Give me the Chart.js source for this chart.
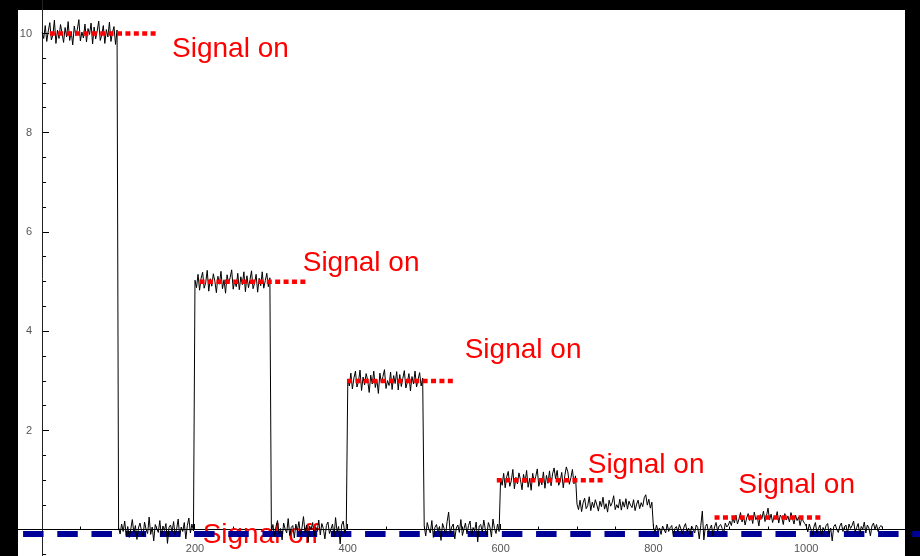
<!DOCTYPE html>
<html>
<head>
<meta charset="utf-8">
<script src="https://cdn.jsdelivr.net/npm/chart.js@4.4.0/dist/chart.umd.min.js"></script>
<style>
  html, body { margin: 0; padding: 0; background: #000; }
  #frame { position: absolute; left: 18px; top: 10px; width: 887px; height: 546px; background: #fff; }
  #chart { position: absolute; left: 0; top: 0; }
</style>
</head>
<body>
<div id="frame"></div>
<canvas id="chart" width="920" height="556"></canvas>
<script>
// noisy signal, one sample every 2 units, one array per 100-unit block
const sampleStep = 2;
const blockStart = [0, 100, 200, 300, 400, 500, 600, 700, 800, 900, 1000];
const on10 = [10.02, 9.9, 10.16, 9.84, 10.05, 10.22, 9.87, 9.97, 10.27, 9.8, 10.07, 9.9, 10.18, 10.01, 9.82, 10.12, 9.93, 10.24, 9.86, 10.04, 9.77, 10.15, 9.96, 10.08, 10.28, 9.85, 10.03, 9.91, 10.19, 9.83, 10.1, 9.98, 10.21, 9.79, 10.13, 9.89, 10.05, 10.25, 9.86, 9.97, 10.16, 9.8, 10.08, 9.93, 10.23, 9.84, 10.02, 10.14, 9.78, 10.07];
const off1 = [0.05, -0.08, 0.12, -0.03, 0.18, -0.11, 0.07, -0.15, 0.02, 0.21, -0.06, 0.09, -0.19, 0.04, 0.14, -0.02, -0.12, 0.16, 0.01, -0.07, 0.26, -0.09, 0.06, -0.22, 0.11, 0.03, -0.05, 0.19, -0.14, 0.08, -0.01, 0.13, -0.27, 0.05, 0.1, -0.04, 0.17, -0.1, 0.02, 0.22, -0.13, 0.06, -0.03, 0.15, -0.18, 0.09, 0.24, -0.06, 0.12, -0.02];
const on5 = [5.03, 4.88, 5.15, 4.83, 5.07, 5.19, 4.87, 4.98, 5.23, 4.81, 5.06, 4.91, 5.16, 5.01, 4.78, 5.11, 4.95, 5.21, 4.86, 5.04, 4.77, 5.14, 4.97, 5.08, 5.24, 4.85, 5.02, 4.9, 5.17, 4.84, 5.1, 4.94, 5.2, 4.8, 5.12, 4.88, 5.04, 5.22, 4.86, 4.97, 5.15, 4.79, 5.07, 4.92, 5.2, 4.87, 5.02, 5.17, 4.9, 5.08];
const off2 = [-0.04, 0.11, -0.13, 0.07, 0.19, -0.08, 0.03, -0.2, 0.14, 0.02, -0.06, 0.23, -0.11, 0.05, 0.09, -0.16, 0.12, -0.02, 0.17, -0.09, 0.04, 0.27, -0.05, 0.1, -0.24, 0.08, 0.01, 0.15, -0.12, 0.06, -0.03, 0.2, -0.1, 0.13, 0.03, -0.18, 0.09, 0.16, -0.07, 0.02, 0.12, -0.14, 0.25, -0.04, 0.07, -0.28, 0.1, 0.18, -0.06, 0.04];
const on3 = [3.04, 2.9, 3.16, 2.84, 3.06, 3.2, 2.88, 2.99, 3.22, 2.81, 3.08, 2.92, 3.15, 3.02, 2.77, 3.12, 2.94, 3.2, 2.87, 3.03, 2.75, 3.16, 2.96, 3.09, 3.23, 2.85, 3.01, 2.91, 3.18, 2.83, 3.11, 2.95, 3.19, 2.82, 3.13, 2.89, 3.05, 3.21, 2.86, 2.98, 3.15, 2.8, 3.09, 2.94, 3.2, 2.88, 3.03, 3.17, 2.9, 3.06];
const off3 = [0.08, -0.12, 0.15, 0.02, -0.06, 0.19, -0.15, 0.05, 0.11, -0.03, 0.07, -0.21, 0.13, 0.03, -0.09, 0.17, 0.36, -0.07, 0.06, 0.12, -0.18, 0.04, 0.1, -0.05, 0.21, -0.11, 0.02, 0.14, -0.08, 0.09, 0.18, -0.13, 0.05, -0.02, 0.16, -0.24, 0.08, 0.11, -0.04, 0.2, 0.01, -0.1, 0.15, 0.06, -0.14, 0.22, 0.03, -0.07, 0.12, -0.03];
const on1 = [1.04, 0.9, 1.14, 0.85, 1.07, 1.18, 0.88, 0.99, 1.22, 0.83, 1.06, 0.93, 1.15, 1.01, 0.81, 1.12, 0.95, 1.2, 0.86, 1.04, 0.8, 1.14, 0.97, 1.08, 1.23, 0.88, 1.02, 0.91, 1.17, 0.84, 1.1, 0.94, 1.19, 0.89, 1.13, 1.25, 1.03, 1.2, 0.9, 0.98, 1.16, 0.85, 1.09, 1.27, 1.17, 0.92, 1.05, 1.22, 0.93, 1.09];
const half = [0.52, 0.41, 0.6, 0.37, 0.55, 0.64, 0.43, 0.49, 0.67, 0.39, 0.56, 0.45, 0.61, 0.5, 0.38, 0.58, 0.47, 0.66, 0.42, 0.53, 0.36, 0.6, 0.48, 0.55, 0.69, 0.41, 0.51, 0.44, 0.62, 0.4, 0.57, 0.46, 0.63, 0.42, 0.58, 0.5, 0.45, 0.61, 0.39, 0.52, 0.6, 0.43, 0.55, 0.47, 0.65, 0.71, 0.5, 0.62, 0.44, 0.56];
const off4 = [0.06, -0.05, 0.1, -0.02, 0.04, -0.09, 0.08, 0.01, -0.06, 0.12, -0.03, 0.05, 0.09, -0.11, 0.03, 0.07, -0.04, 0.11, 0.02, -0.08, 0.06, 0.13, -0.03, 0.04, -0.1, 0.08, 0.02, -0.06, 0.1, 0.05, -0.18, 0.09, 0.38, -0.2, 0.07, 0.12, -0.04, 0.03, 0.1, -0.12, 0.06, 0.15, -0.02, 0.08, 0.11, 0.03, -0.07, 0.14, 0.06, 0.1];
const weak = [0.18, 0.09, 0.25, 0.14, 0.3, 0.12, 0.22, 0.35, 0.16, 0.27, 0.1, 0.24, 0.33, 0.19, 0.28, 0.13, 0.36, 0.21, 0.26, 0.08, 0.31, 0.23, 0.38, 0.17, 0.29, 0.44, 0.2, 0.32, 0.15, 0.27, 0.22, 0.37, 0.14, 0.3, 0.25, 0.11, 0.33, 0.2, 0.28, 0.16, 0.35, 0.23, 0.12, 0.3, 0.19, 0.26, 0.09, 0.24, 0.18, 0.13];
const tail = [0.08, -0.04, 0.12, 0.02, -0.1, 0.06, 0.15, -0.06, 0.03, 0.1, -0.14, 0.05, -0.02, 0.09, 0.13, -0.08, 0.04, -0.22, 0.07, 0.11, 0.01, -0.05, 0.08, 0.14, -0.03, 0.06, 0.1, -0.07, 0.12, 0.03, 0.09, 0.18, -0.04, 0.05, 0.13, -0.09, 0.07, 0.02, 0.16, -0.06, 0.1, 0.04, -0.12, 0.08, 0.14, 0.01, 0.11, -0.03, 0.06, 0.09, 0.04];
const signalBlocks = [on10, off1, on5, off2, on3, off3, on1, half, off4, weak, tail];

// red dotted "signal on" levels
const onLevels = [10, 5, 3, 1, 0.25];
const onFrom = [10, 206, 399, 595, 880];
const onTo = [152, 347, 538, 734, 1020];

// blue dashed "signal off" level
const offLevel = -0.08;
const offFrom = -25;
const offTo = 1160;

// annotations (data coordinates of text start / baseline)
const noteText = ["Signal on", "Signal on", "Signal on", "Signal on", "Signal on", "Signal off"];
const noteX = [170, 341, 553, 714, 911, 210];
const noteY = [9.53, 5.22, 3.46, 1.15, 0.74, -0.26];

// axes
const xMajorTicks = [200, 400, 600, 800, 1000];
const xMinorTicks = [50, 100, 150, 250, 300, 350, 450, 500, 550, 650, 700, 750, 850, 900, 950, 1050, 1100];
const yMajorTicks = [2, 4, 6, 8, 10];
const yMinorTicks = [-0.5, 0.5, 1, 1.5, 2.5, 3, 3.5, 4.5, 5, 5.5, 6.5, 7, 7.5, 8.5, 9, 9.5];
const xMin = -55.2, xMax = 1148.9;
const yMin = -0.524, yMax = 10.675;
const yLabelAt = -13.2;

const signalPoints = [];
signalBlocks.forEach((block, k) => {
  block.forEach((v, i) => signalPoints.push({ x: blockStart[k] + sampleStep * i, y: v }));
});

const onSets = onLevels.map((lv, i) => ({
  data: [{ x: onFrom[i], y: lv }, { x: onTo[i], y: lv }],
  borderColor: "#ff0000",
  borderWidth: 4.5,
  borderDash: [5, 3.4],
  borderCapStyle: "butt",
  pointRadius: 0,
  order: 0
}));

// axis boxes take no room: chart area is the whole canvas
const noRoom = s => {
  if (s.isHorizontal()) s.height = 0; else s.width = 0;
  s.paddingLeft = s.paddingRight = s.paddingTop = s.paddingBottom = 0;
};
const fixTicks = list => s => { s.ticks = list.map(v => ({ value: v })); };
const tickFont = { family: "Liberation Sans", size: 11 };

const notes = {
  id: "notes",
  beforeDatasetsDraw(chart) {
    const { ctx, scales: { x, y } } = chart;
    ctx.save();
    ctx.font = '28px "Liberation Sans", Arial, sans-serif';
    ctx.fillStyle = "#ff0000";
    ctx.textBaseline = "alphabetic";
    noteText.forEach((t, i) => ctx.fillText(t, x.getPixelForValue(noteX[i]), y.getPixelForValue(noteY[i])));
    ctx.restore();
  }
};

new Chart(document.getElementById("chart"), {
  type: "line",
  data: {
    datasets: [
      ...onSets,
      {
        data: signalPoints,
        borderColor: "#000",
        borderWidth: 1,
        pointRadius: 0,
        tension: 0,
        order: 1
      },
      {
        data: [{ x: offFrom, y: offLevel }, { x: offTo, y: offLevel }],
        borderColor: "#000099",
        borderWidth: 6,
        borderDash: [20.5, 13.7],
        borderCapStyle: "butt",
        pointRadius: 0,
        order: 2
      }
    ]
  },
  options: {
    responsive: false,
    devicePixelRatio: 1,
    animation: false,
    events: [],
    layout: { padding: 0 },
    plugins: { legend: { display: false }, tooltip: { enabled: false } },
    scales: {
      x: {
        type: "linear", axis: "x", position: { y: 0 }, min: xMin, max: xMax,
        afterBuildTicks: fixTicks(xMajorTicks), afterFit: noRoom,
        ticks: { autoSkip: false, maxRotation: 0, padding: 18, color: "#555", font: tickFont, callback: v => String(v) },
        grid: { drawOnChartArea: false, tickLength: -6, color: "#000" },
        border: { display: true, color: "#000", width: 1 }
      },
      xMinor: {
        type: "linear", axis: "x", position: { y: 0 }, min: xMin, max: xMax,
        afterBuildTicks: fixTicks(xMinorTicks), afterFit: noRoom,
        ticks: { autoSkip: false, maxRotation: 0, callback: () => "" },
        grid: { drawOnChartArea: false, tickLength: -3.5, color: "#000" },
        border: { display: false }
      },
      y: {
        type: "linear", axis: "y", position: { x: 0 }, min: yMin, max: yMax,
        afterBuildTicks: fixTicks(yMajorTicks), afterFit: noRoom,
        ticks: { autoSkip: false, callback: () => "" },
        grid: { drawOnChartArea: false, tickLength: -7, color: "#000" },
        border: { display: true, color: "#222", width: 1 }
      },
      yMinor: {
        type: "linear", axis: "y", position: { x: 0 }, min: yMin, max: yMax,
        afterBuildTicks: fixTicks(yMinorTicks), afterFit: noRoom,
        ticks: { autoSkip: false, callback: () => "" },
        grid: { drawOnChartArea: false, tickLength: -4, color: "#000" },
        border: { display: false }
      },
      yLabels: {
        type: "linear", axis: "y", position: { x: yLabelAt }, min: yMin, max: yMax,
        afterBuildTicks: fixTicks(yMajorTicks), afterFit: noRoom,
        ticks: { autoSkip: false, padding: 0, color: "#555", font: tickFont, callback: v => String(v) },
        grid: { display: false, drawTicks: false },
        border: { display: false }
      }
    }
  },
  plugins: [notes]
});
</script>
</body>
</html>
